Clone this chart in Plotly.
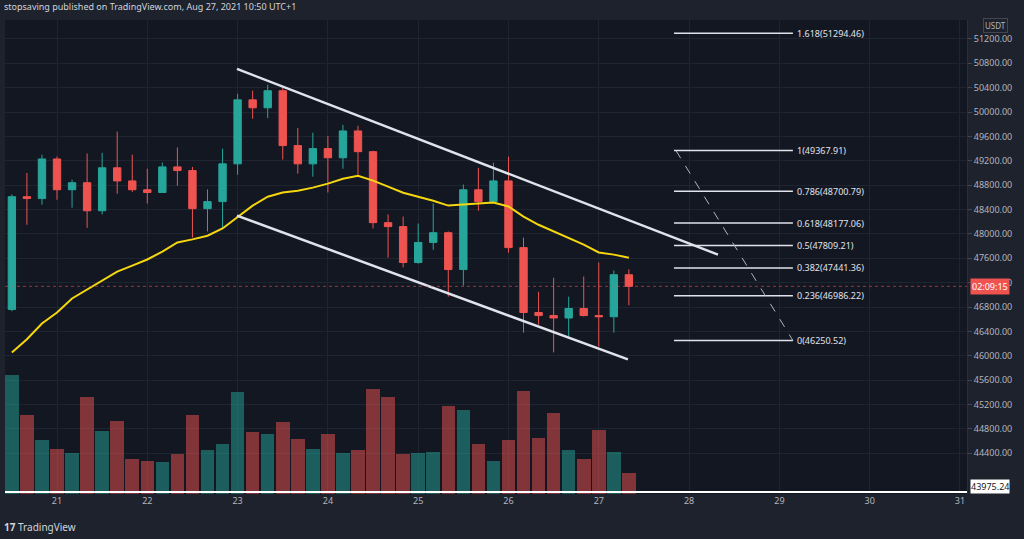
import plotly.graph_objects as go

# 4h candles, Aug 20 12:00 -> Aug 27 08:00 (x in day-of-month units)
opens = [46760,48611,48580,49230,48725,48840,48380,49085,48870,48725,48680,49100,49040,48415,48530,49150,
         50200,50070,50350,49450,49150,49400,49250,49690,49350,48185,48120,47530,47860,48020,47415,48725,
         48530,48870,47775,46710,46660,46620,46775,46660,46640,47330]
closes = [48611,48580,49230,48725,48840,48380,49085,48870,48725,48680,49100,49040,48415,48530,49150,50200,
          50070,50350,49450,49150,49400,49250,49690,49350,48185,48120,47530,47860,48020,47415,48725,48530,
          48870,47775,46710,46660,46620,46775,46660,46640,47330,47140]
highs = [48650,49000,49300,49270,48890,49320,49330,49680,49300,49070,49170,49420,49100,48730,49400,50300,
         50350,50450,50410,49740,49660,49610,49790,49775,49365,48320,48285,48170,48500,48040,48810,49085,
         49170,49270,47940,47050,47280,46970,47300,47530,47400,47420]
lows = [46730,48150,48480,48560,48430,48100,48320,48660,48690,48500,48680,48790,47940,48040,48100,48970,
        49890,49900,49220,48990,48940,48680,49070,48970,48090,47610,47450,47510,47740,46970,47150,48380,
        48530,47690,46380,46510,46055,46300,46645,46150,46380,46830]
ema = [46055,46270,46530,46710,46940,47090,47235,47380,47480,47580,47710,47860,47910,47970,48090,48280,
       48465,48610,48680,48710,48760,48825,48905,48955,48875,48775,48675,48610,48545,48465,48480,48500,
       48515,48450,48285,48150,48040,47940,47825,47695,47660,47610]
volumes = [2380,1580,1080,900,820,1940,1260,1460,700,660,640,800,1580,880,1000,2040,1240,1200,1440,1100,
           900,1200,820,880,2100,1940,800,820,840,1760,1680,1000,660,1080,2060,1120,1620,880,700,1280,840,420]
fib_levels = ["1.618", "1", "0.786", "0.618", "0.5", "0.382", "0.236", "0"]
fib_prices = [51294.46, 49367.91, 48700.79, 48177.06, 47809.21, 47441.36, 46986.22, 46250.52]
day_ticks = list(range(21, 32))
price_ticks = list(range(44400, 51201, 400))

xs = [20.5 + i / 6 for i in range(len(opens))]
UP, DN = "#26a69a", "#ef5350"
vcol = ["rgba(38,166,154,0.5)" if c >= o else "rgba(239,83,80,0.5)" for o, c in zip(opens, closes)]

fig = go.Figure()
fig.add_trace(go.Bar(x=xs, y=volumes, marker=dict(color=vcol, line=dict(width=0)), width=0.15,
                     yaxis="y2", hoverinfo="skip"))
fig.add_trace(go.Candlestick(x=xs, open=opens, high=highs, low=lows, close=closes,
                             increasing=dict(line=dict(color=UP, width=1), fillcolor=UP),
                             decreasing=dict(line=dict(color=DN, width=1), fillcolor=DN),
                             whiskerwidth=0))
fig.add_trace(go.Scatter(x=xs, y=ema, mode="lines", line=dict(color="#f5d60f", width=2), hoverinfo="skip"))

W = "#e0e3eb"
# channel lines
fig.add_trace(go.Scatter(x=[22.993, 28.32], y=[50708, 47661], mode="lines", line=dict(color=W, width=2.5)))
fig.add_trace(go.Scatter(x=[22.993, 27.323], y=[48300, 45940], mode="lines", line=dict(color=W, width=2.5)))
# fib
for lv, p in zip(fib_levels, fib_prices):
    fig.add_trace(go.Scatter(x=[27.833, 29.15], y=[p, p], mode="lines", line=dict(color=W, width=1.5)))
    fig.add_annotation(x=29.17, y=p, text=f"{lv}({p:.2f})", showarrow=False, xanchor="left",
                       font=dict(color=W, size=9, family="Noto Sans"))
fig.add_trace(go.Scatter(x=[27.855, 29.15], y=[fib_prices[1], fib_prices[-1]], mode="lines",
                         line=dict(color="#b2b5be", width=1, dash="dash")))
# current price line
fig.add_shape(type="line", xref="paper", x0=0, x1=1, y0=closes[-1], y1=closes[-1],
              line=dict(color=DN, width=1, dash="dot"), opacity=0.6)
fig.add_annotation(xref="paper", x=1.003, y=closes[-1], text="02:09:15", showarrow=False, xanchor="left",
                   bgcolor=DN, font=dict(color="white", size=9, family="Noto Sans"), borderpad=1)
# bottom white line
fig.add_shape(type="line", xref="paper", yref="paper", x0=0, x1=1, y0=0.004, y1=0.004,
              line=dict(color="white", width=2))
fig.add_annotation(xref="paper", yref="paper", x=1.003, y=0.0, text="43975.24", showarrow=False,
                   xanchor="left", bgcolor="white", font=dict(color="#131722", size=9, family="Noto Sans"),
                   borderpad=0)
fig.add_annotation(xref="paper", yref="paper", x=1.017, y=1.0, yshift=2, text="USDT", showarrow=False,
                   xanchor="left", yanchor="top", bordercolor="#434651", borderwidth=1, borderpad=1,
                   font=dict(color="#b2b5be", size=8, family="Noto Sans"))
fig.add_annotation(xref="paper", yref="paper", x=-0.003, y=1.0, yshift=5, yanchor="bottom", xanchor="left",
                   text="stopsaving published on TradingView.com, Aug 27, 2021 10:50 UTC+1",
                   showarrow=False, font=dict(color="#d1d4dc", size=9, family="Noto Sans"))
fig.add_annotation(xref="paper", yref="paper", x=-0.003, y=0, yshift=-24, yanchor="top", xanchor="left",
                   text="<b>17</b> TradingView", showarrow=False,
                   font=dict(color="#d1d4dc", size=10, family="Noto Sans"))

fig.update_layout(
    width=1024, height=539, showlegend=False,
    margin=dict(l=5, r=57, t=20, b=45, autoexpand=False),
    paper_bgcolor="#1e222d", plot_bgcolor="#131722",
    xaxis=dict(range=[20.424, 31.078], tickvals=day_ticks, ticktext=[str(d) for d in day_ticks],
               showgrid=True, gridcolor="#1f2431", zeroline=False, rangeslider=dict(visible=False),
               tickfont=dict(color="#b2b5be", size=9, family="Noto Sans"), ticks="", fixedrange=True),
    yaxis=dict(range=[43731, 51511], side="right", tickvals=price_ticks,
               ticktext=[f"{t:.2f}" for t in price_ticks], showgrid=True, gridcolor="#1f2431",
               zeroline=False, tickfont=dict(color="#b2b5be", size=9, family="Noto Sans"),
               ticks="outside", ticklen=4, tickcolor="#434651", showline=True, linecolor="#2a2e39"),
    yaxis2=dict(range=[0, 9480], overlaying="y", visible=False),
    bargap=0,
)
fig.write_html("out.html", config={"displayModeBar": False})
with open("out.html", encoding="utf-8") as f:
    html = f.read()
html = html.replace("<head>", "<head><style>html,body{margin:0;padding:0;background:#1e222d;overflow:hidden}</style>", 1)
with open("out.html", "w", encoding="utf-8") as f:
    f.write(html)
